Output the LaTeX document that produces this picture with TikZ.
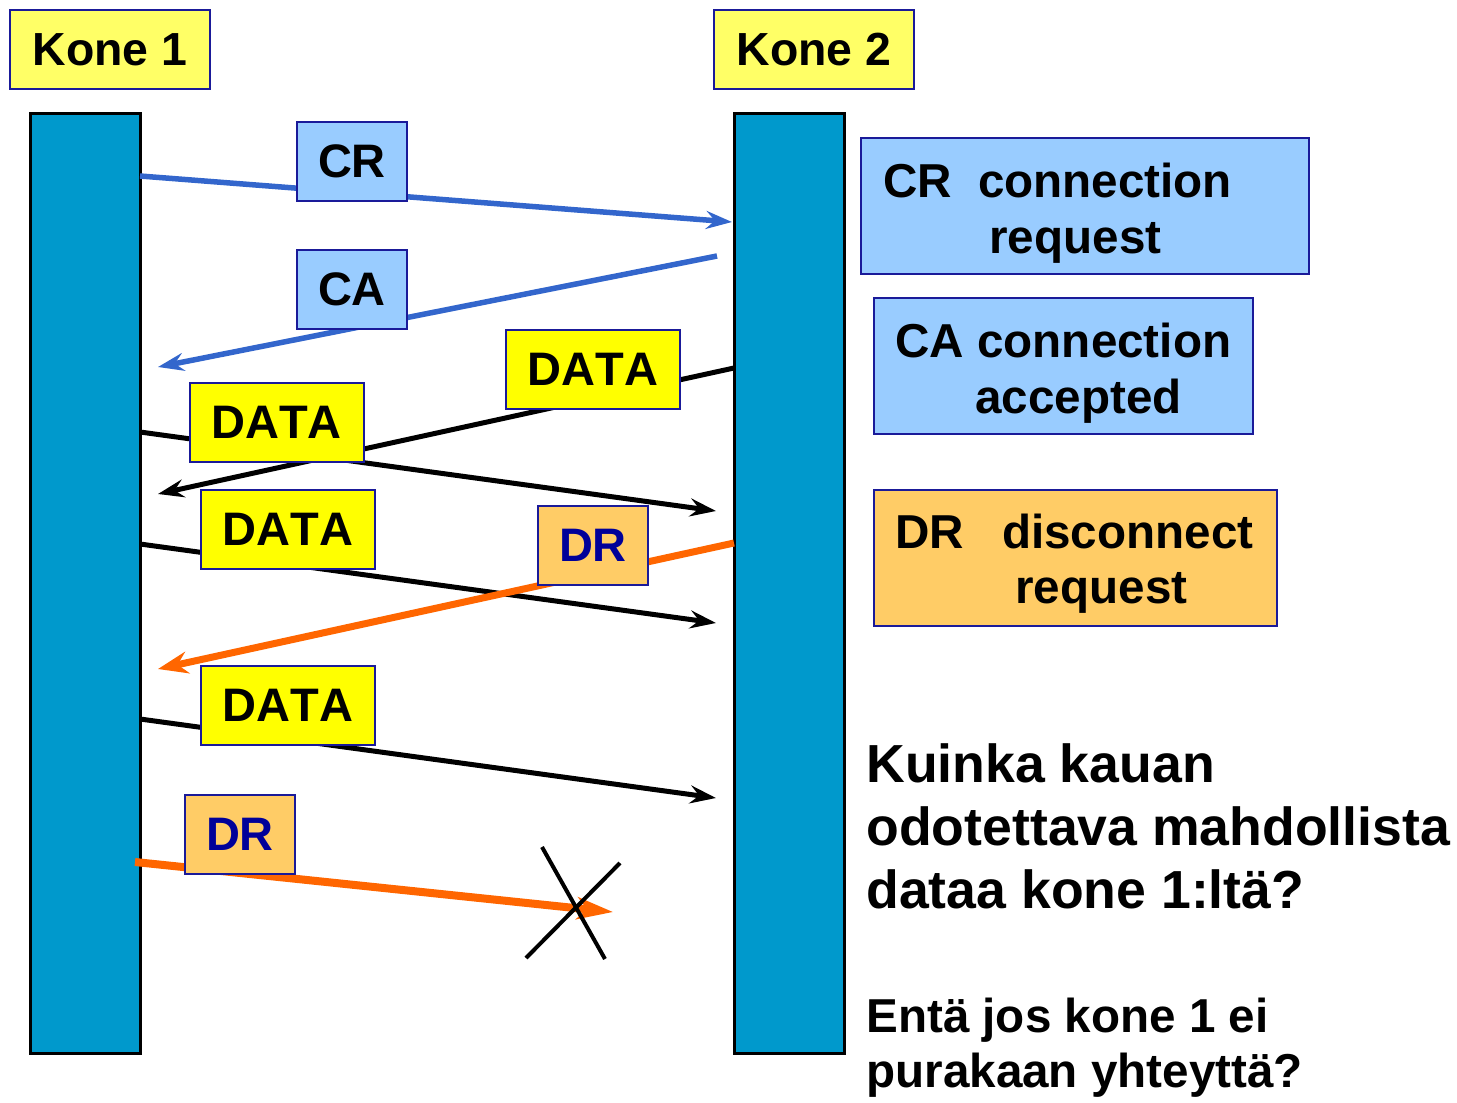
\documentclass[tikz,border=0pt]{standalone}
\usepackage{fontspec}
\setmainfont{Liberation Sans}[Kerning=Off]
\usetikzlibrary{arrows.meta}
\definecolor{konefill}{HTML}{FFFF66}
\definecolor{datafill}{HTML}{FFFF00}
\definecolor{bluefill}{HTML}{99CCFF}
\definecolor{orangefill}{HTML}{FFCC66}
\definecolor{barfill}{HTML}{0099CC}
\definecolor{boxline}{HTML}{1A1A99}
\definecolor{bluearrow}{HTML}{3366CC}
\definecolor{orangearrow}{HTML}{FF6600}
\definecolor{drtext}{HTML}{000099}
\begin{document}
\begin{tikzpicture}[x=0.5pt,y=-0.5pt,
  boxed/.style={draw=boxline, line width=1pt, inner sep=0pt},
  konebox/.style={boxed, fill=konefill, minimum width=100pt, minimum height=39.5pt,
    font=\fontsize{23.2pt}{28pt}\selectfont\bfseries},
  lbl/.style={boxed, minimum height=39.5pt, font=\fontsize{23.5pt}{28pt}\selectfont\bfseries},
  datalbl/.style={lbl, fill=datafill, minimum width=87pt},
  bluelbl/.style={lbl, fill=bluefill, minimum width=55pt},
  drlbl/.style={lbl, fill=orangefill, minimum width=55pt, text=drtext},
  bar/.style={draw=black, line width=1.5pt, fill=barfill, minimum width=55pt, minimum height=470pt, inner sep=0pt},
  legend/.style={boxed, fill=#1, minimum height=68pt},
  legtext/.style={anchor=base west, inner sep=0pt, font=\fontsize{23.8pt}{28pt}\selectfont\bfseries},
  qtext/.style={anchor=base west, inner sep=0pt, font=\fontsize{26.8pt}{32pt}\selectfont\bfseries},
  qsmall/.style={anchor=base west, inner sep=0pt, font=\fontsize{23.8pt}{28pt}\selectfont\bfseries},
  msg/.style={line width=2.5pt, -{Stealth[length=13pt,width=9pt,inset=4.5pt]}},
  bluemsg/.style={msg, line width=2.75pt, draw=bluearrow},
  blackmsg/.style={msg, draw=black},
  orangemsg/.style={line width=3.5pt, draw=orangearrow, -{Stealth[length=15pt,width=11pt,inset=5pt]}},
  cross/.style={line width=2pt, draw=black}
]
\useasboundingbox (0,0) rectangle (1457,1103);

% headers
\node[konebox] (k1) at (110,49.5) {Kone 1};
\node[konebox] (k2) at (814,49.5) {Kone 2};

% bars
\node[bar] (bar1) at (85,583) {};
\node[bar] (bar2) at (789,583) {};

% arrow end points
\coordinate (crS) at (140,176);  \coordinate (crE) at (732,222);
\coordinate (caS) at (717,256);  \coordinate (caE) at (158,367);
\coordinate (d1S) at (734,368);  \coordinate (d1E) at (158,494);
\coordinate (d2S) at (140,432);  \coordinate (d2E) at (716,511);
\coordinate (d3S) at (140,544);  \coordinate (d3E) at (716,623);
\coordinate (r1S) at (734,543);  \coordinate (r1E) at (158,669);
\coordinate (d4S) at (140,719);  \coordinate (d4E) at (716,798);
\coordinate (r2S) at (135,862);  \coordinate (r2E) at (613,912);

% messages
\draw[bluemsg] (crS) -- (crE);
\draw[bluemsg] (caS) -- (caE);
\draw[blackmsg] (d1S) -- (d1E);
\draw[blackmsg] (d2S) -- (d2E);
\draw[blackmsg] (d3S) -- (d3E);
\draw[orangemsg] (r1S) -- (r1E);
\draw[blackmsg] (d4S) -- (d4E);
\draw[orangemsg, line width=4pt, -{Stealth[length=18pt,width=11pt,inset=5pt]}] (r2S) -- (r2E);

% labels on messages
\node[bluelbl] (crl) at (352,161.5) {CR};
\node[bluelbl] (cal) at (352,289.5) {CA};
\node[datalbl] (dl1) at (593,369.5) {DATA};
\node[datalbl] (dl2) at (276.5,422.5) {DATA};
\node[datalbl] (dl3) at (288,529.5) {DATA};
\node[drlbl] (rl1) at (593,545.5) {DR};
\node[datalbl] (dl4) at (288,705.5) {DATA};
\node[drlbl] (rl2) at (240,834) {DR};

% cross
\coordinate (xa) at (542,847); \coordinate (xb) at (605,959);
\coordinate (xc) at (620,863); \coordinate (xd) at (526,958);
\draw[cross] (xa) -- (xb);
\draw[cross] (xc) -- (xd);

% legend boxes
\node[legend=bluefill, minimum width=224pt] (leg1) at (1085,206) {};
\node[legend=bluefill, minimum width=189.5pt] (leg2) at (1063.5,366) {};
\node[legend=orangefill, minimum width=201.5pt] (leg3) at (1075.5,558) {};

\node[legtext] (l1a) at (883,197) {CR\hspace{13pt}connection};
\node[legtext] (l1b) at (989,253) {request};
\node[legtext] (l2a) at (895,357) {CA connection};
\node[legtext] (l2b) at (975,413) {accepted};
\node[legtext] (l3a) at (895,548) {DR\hspace{19pt}disconnect};
\node[legtext] (l3b) at (1015,603) {request};

% questions
\node[qtext] (q1) at (866,782) {Kuinka kauan};
\node[qtext] (q2) at (866,845) {odotettava mahdollista};
\node[qtext] (q3) at (866,908) {dataa kone 1:ltä?};
\node[qsmall] (q4) at (866,1032) {Entä jos kone 1 ei};
\node[qsmall] (q5) at (866,1087) {purakaan yhteyttä?};
\end{tikzpicture}
\end{document}
